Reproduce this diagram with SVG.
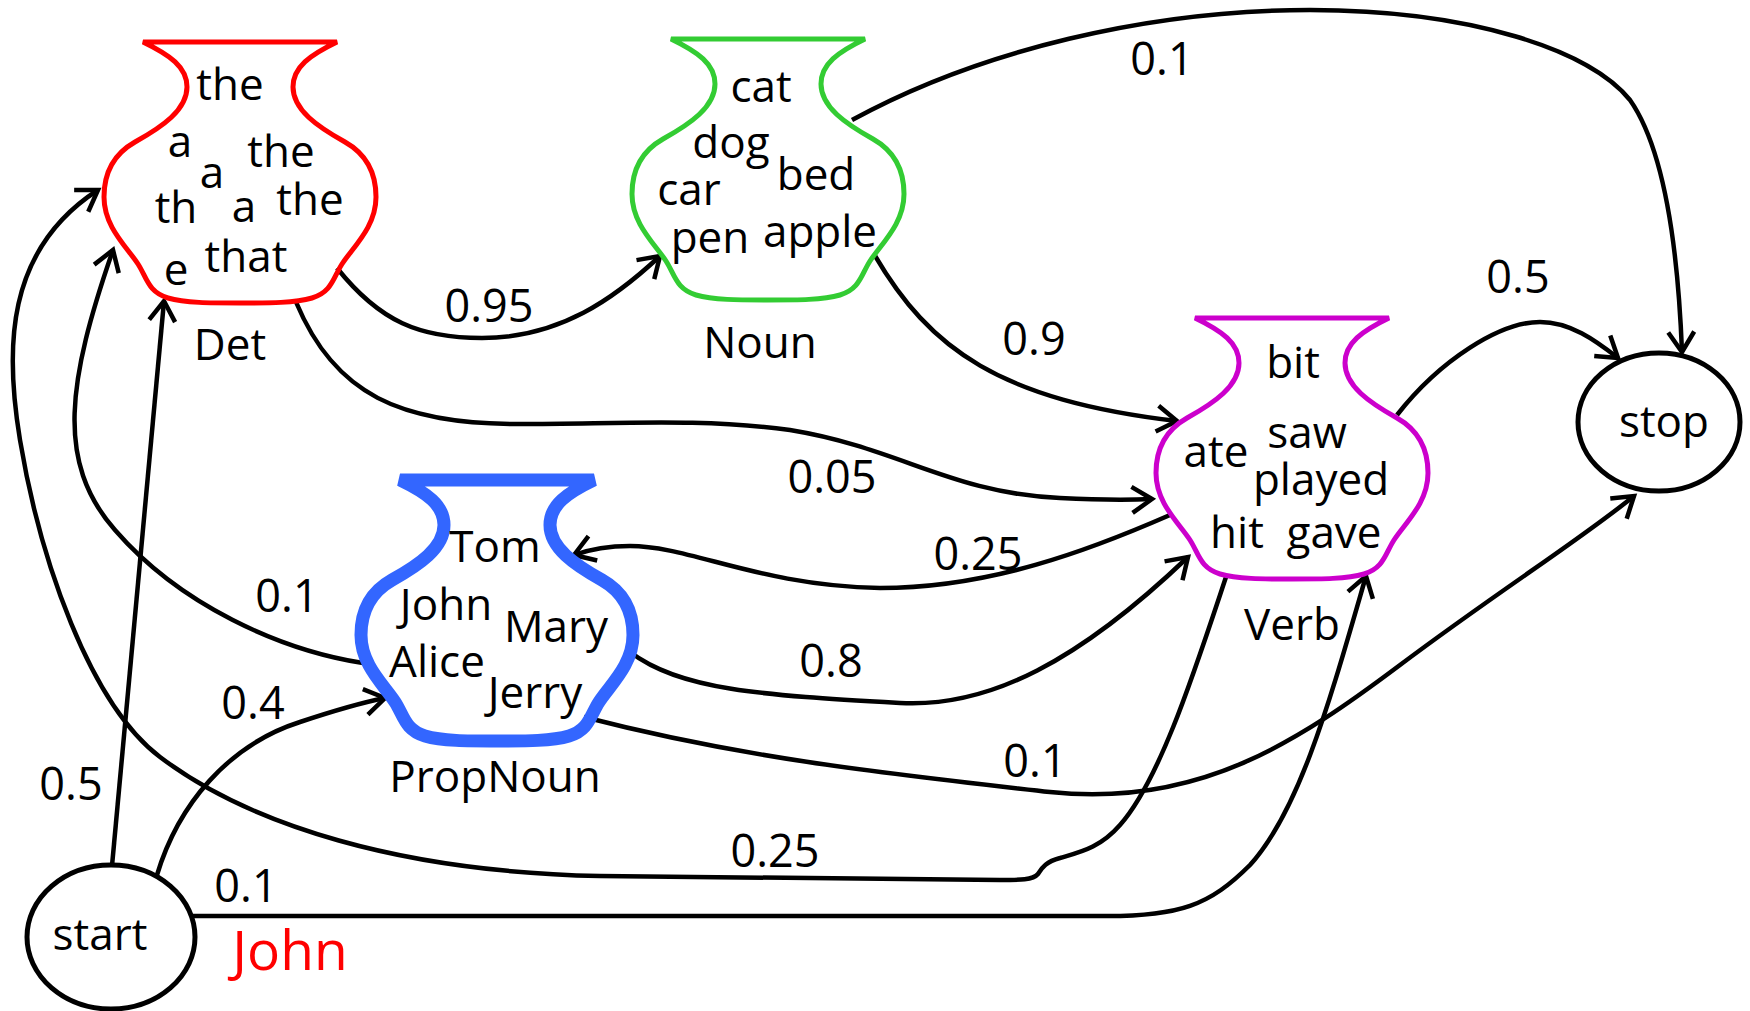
<svg xmlns="http://www.w3.org/2000/svg" xmlns:xlink="http://www.w3.org/1999/xlink" width="1750" height="1011" viewBox="0 0 1750 1011">
  <style>
    text { font-family: "Open Sans", "Noto Sans", "Liberation Sans", sans-serif; font-size: 44px; fill: #000; text-anchor: middle; }
    .num { font-size: 45px; }
    .hint { font-size: 55px; fill: #FF0000; }
    .vase { fill: none; stroke-linejoin: miter; }
    .state { fill: #fff; stroke: #000; stroke-width: 5; }
    .edge { fill: none; stroke: #000; stroke-width: 4.5; }
    .arrow { marker-end: url(#arrow); }
  </style>
  <defs>
    <!-- vase outline, origin at the centre of the rim -->
    <path id="vase" d="M -97,0 L 97,0 C 70,13 53,25 53,45 C 53,68 78,85 105,100 C 128,113 136,133 136,155 C 136,185 113,205 102,222 C 93,236 92,250 72,256 C 55,261 30,261 0,261 C -30,261 -55,261 -72,256 C -92,250 -93,236 -102,222 C -113,205 -136,185 -136,155 C -136,133 -128,113 -105,100 C -78,85 -53,68 -53,45 C -53,25 -70,13 -97,0 Z"/>
    <marker id="arrow" markerUnits="userSpaceOnUse" viewBox="-30 -20 40 40" markerWidth="40" markerHeight="40" refX="0" refY="0" orient="auto">
      <path d="M -20,-13 L 0,0 L -20,13" fill="none" stroke="#000" stroke-width="4.5"/>
    </marker>
  </defs>

  <rect width="1750" height="1011" fill="#fff"/>

  <!-- transitions -->
  <g id="connectors">
    <path class="edge arrow" d="M 337,268 C 380,322 420,338 482,338 C 560,338 615,298 660,256"/>
    <path class="edge arrow" d="M 296,302 C 335,395 400,424 520,424 C 620,424 700,418 790,430 C 900,448 950,493 1060,498 C 1100,500 1130,500 1152,499"/>
    <path class="edge arrow" d="M 874,254 C 930,350 1000,400 1177,421"/>
    <path class="edge arrow" d="M 852,120 C 980,50 1150,10 1310,10 C 1470,10 1590,50 1630,100 C 1665,150 1678,250 1682,352"/>
    <path class="edge arrow" d="M 1397,415 C 1440,360 1500,322 1540,322 C 1570,322 1595,340 1618,358"/>
    <path class="edge arrow" d="M 1170,515 C 1090,550 990,588 880,588 C 760,586 690,546 630,546 C 605,546 588,550 574,555"/>
    <path class="edge arrow" d="M 630,652 C 680,690 760,695 900,703 C 990,708 1080,660 1188,557"/>
    <path class="edge arrow" d="M 584,717 C 750,760 900,775 1050,792 C 1200,808 1300,740 1400,665 C 1500,590 1580,540 1634,496"/>
    <path class="edge arrow" d="M 363,663 C 280,650 180,605 115,530 C 55,462 68,380 113,250"/>
    <path class="edge arrow" d="M 112,866 L 164,301"/>
    <path class="edge arrow" d="M 157,875 C 178,805 228,745 300,722 C 330,712 360,703 385,698"/>
    <path class="edge arrow" d="M 1226,577 C 1195,670 1160,780 1120,825 C 1100,848 1080,852 1060,858 C 1045,862 1042,868 1038,874 C 1033,880 1020,880 1000,880 L 600,876 C 400,872 250,825 160,757 C 90,704 40,560 20,440 C 5,350 5,250 98,190"/>
    <path class="edge arrow" d="M 184,916 L 1100,916 C 1180,917 1210,905 1250,865 C 1300,810 1330,700 1366,576"/>
  </g>

  <!-- transition probabilities -->
  <g id="edge-labels">
    <text class="num" x="1162" y="75">0.1</text>
    <text class="num" x="489" y="322">0.95</text>
    <text class="num" x="1034" y="355">0.9</text>
    <text class="num" x="1518" y="293">0.5</text>
    <text class="num" x="832" y="493">0.05</text>
    <text class="num" x="978" y="570">0.25</text>
    <text class="num" x="287" y="612">0.1</text>
    <text class="num" x="253" y="719">0.4</text>
    <text class="num" x="71" y="800">0.5</text>
    <text class="num" x="831" y="677">0.8</text>
    <text class="num" x="1035" y="777">0.1</text>
    <text class="num" x="775" y="867">0.25</text>
    <text class="num" x="246" y="902">0.1</text>
  </g>

  <g id="det">
    <use xlink:href="#vase" href="#vase" class="vase" transform="translate(240,42)" stroke="#FF0000" stroke-width="5"/>
    <text x="230" y="100">the</text>
    <text x="180" y="157">a</text>
    <text x="281" y="167">the</text>
    <text x="212" y="188">a</text>
    <text x="176" y="223">th</text>
    <text x="244" y="222">a</text>
    <text x="310" y="215">the</text>
    <text x="176" y="285">e</text>
    <text x="246" y="272">that</text>
    <text x="230" y="360">Det</text>
  </g>

  <g id="noun">
    <use xlink:href="#vase" href="#vase" class="vase" transform="translate(768,39)" stroke="#33CC33" stroke-width="5"/>
    <text x="761" y="102">cat</text>
    <text x="731" y="158">dog</text>
    <text x="816" y="190">bed</text>
    <text x="689" y="205">car</text>
    <text x="820" y="247">apple</text>
    <text x="710" y="253">pen</text>
    <text x="760" y="358">Noun</text>
  </g>

  <g id="verb">
    <use xlink:href="#vase" href="#vase" class="vase" transform="translate(1292,318)" stroke="#CC00CC" stroke-width="5"/>
    <text x="1293" y="378">bit</text>
    <text x="1307" y="448">saw</text>
    <text x="1216" y="467">ate</text>
    <text x="1321" y="495">played</text>
    <text x="1237" y="548">hit</text>
    <text x="1334" y="548">gave</text>
    <text x="1292" y="640">Verb</text>
  </g>

  <g id="propnoun">
    <use xlink:href="#vase" href="#vase" class="vase" transform="translate(497,480)" stroke="#3366FF" stroke-width="13"/>
    <text x="495" y="562">Tom</text>
    <text x="446" y="620">John</text>
    <text x="556" y="642">Mary</text>
    <text x="437" y="677">Alice</text>
    <text x="535" y="708">Jerry</text>
    <text x="495" y="792">PropNoun</text>
  </g>

  <g id="start">
    <ellipse class="state" cx="111" cy="937" rx="84" ry="72"/>
    <text x="100" y="950">start</text>
  </g>

  <g id="stop">
    <ellipse class="state" cx="1659" cy="422" rx="81" ry="69"/>
    <text x="1664" y="437">stop</text>
  </g>

  <text class="hint" x="290" y="970">John</text>
</svg>
